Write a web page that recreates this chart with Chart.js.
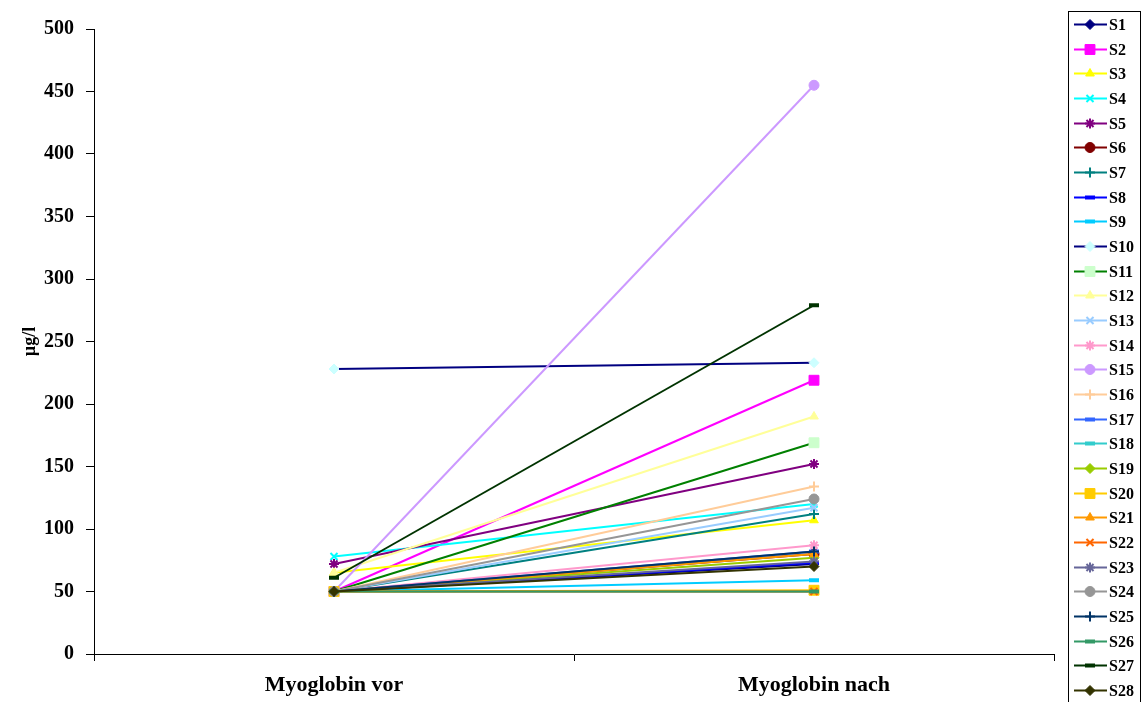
<!DOCTYPE html>
<html>
<head>
<meta charset="utf-8">
<script src="https://cdn.jsdelivr.net/npm/chart.js@4/dist/chart.umd.min.js"></script>
<style>
  html, body { margin: 0; padding: 0; background: #fff; }
  #wrap { width: 1142px; height: 702px; }
</style>
</head>
<body>
<div id="wrap"><canvas id="chart" width="1142" height="702"></canvas></div>
<script>
// Kategorien und Messwerte
const categories = ['Myoglobin vor', 'Myoglobin nach'];
const seriesNames = ['S1','S2','S3','S4','S5','S6','S7','S8','S9','S10','S11','S12','S13','S14',
                     'S15','S16','S17','S18','S19','S20','S21','S22','S23','S24','S25','S26','S27','S28'];
const vorValues  = [50, 50, 65, 78, 72, 50, 50, 50, 50, 228, 50, 65, 50, 50,
                    50, 50, 50, 50, 50, 50, 50, 50, 50, 50, 50, 50, 61, 50];
const nachValues = [72, 219, 107, 120, 152, 80, 112, 73, 59, 233, 169, 190, 117, 87,
                    455, 134, 82, 50, 77, 51, 80, 50, 74, 124, 82, 50, 279, 70];
const yTicks = [0, 50, 100, 150, 200, 250, 300, 350, 400, 450, 500];

// Stil je Serie (Excel-Palette)
const lineColors = ['#000080','#FF00FF','#FFFF00','#00FFFF','#800080','#800000','#008080','#0000FF',
                    '#00CCFF','#000080','#008000','#FFFF99','#99CCFF','#FF99CC','#CC99FF','#FFCC99',
                    '#3366FF','#33CCCC','#99CC00','#FFCC00','#FF9900','#FF6600','#666699','#969696',
                    '#003366','#339966','#003300','#333300'];
const markerColors = ['#000080','#FF00FF','#FFFF00','#00FFFF','#800080','#800000','#008080','#0000FF',
                      '#00CCFF','#CCFFFF','#CCFFCC','#FFFF99','#99CCFF','#FF99CC','#CC99FF','#FFCC99',
                      '#3366FF','#33CCCC','#99CC00','#FFCC00','#FF9900','#FF6600','#666699','#969696',
                      '#003366','#339966','#003300','#333300'];
const markerStyles = ['rectRot','rect','triangle','crossRot','star','circle','cross','line',
                      'line','rectRot','rect','triangle','crossRot','star','circle','cross',
                      'line','line','rectRot','rect','triangle','crossRot','star','circle',
                      'cross','line','line','rectRot'];

const FONT = '"Liberation Serif", "Times New Roman", serif';

function markerRadius(style) {
    if (style === 'rect') return 7;
    return 5;
}
function markerBorder(style) {
    if (style === 'line') return 4;
    if (style === 'cross' || style === 'crossRot' || style === 'star') return 2;
    return 1;
}

const datasets = seriesNames.map((name, i) => ({
    label: name,
    data: [vorValues[i], nachValues[i]],
    borderColor: lineColors[i],
    borderWidth: 2,
    pointStyle: markerStyles[i],
    pointRadius: markerRadius(markerStyles[i]),
    pointBackgroundColor: markerColors[i],
    pointBorderColor: markerColors[i],
    pointBorderWidth: markerBorder(markerStyles[i]),
    tension: 0,
    order: seriesNames.length - 1 - i   // spätere Serien oben, wie in Excel
}));

// eigene Legende rechts, Linie + Marker
const legendBox = {
    id: 'legendBox',
    afterDraw(chart) {
        const ctx = chart.ctx;
        ctx.save();
        ctx.strokeStyle = '#000';
        ctx.lineWidth = 1;
        ctx.strokeRect(1068.5, 11.5, 72, 700);
        chart.data.datasets.forEach((ds, i) => {
            const y = Math.round(24 + i * 24.67) + 0.5;
            ctx.strokeStyle = ds.borderColor;
            ctx.lineWidth = 2;
            ctx.beginPath();
            ctx.moveTo(1074, y);
            ctx.lineTo(1107, y);
            ctx.stroke();
            ctx.fillStyle = ds.pointBackgroundColor;
            ctx.strokeStyle = ds.pointBorderColor;
            ctx.lineWidth = ds.pointBorderWidth;
            Chart.helpers.drawPoint(ctx, {
                pointStyle: ds.pointStyle,
                radius: ds.pointRadius,
                rotation: 0,
                borderWidth: ds.pointBorderWidth
            }, 1090, y);
            ctx.fillStyle = '#000';
            ctx.font = 'bold 16px ' + FONT;
            ctx.textBaseline = 'middle';
            ctx.textAlign = 'left';
            ctx.fillText(ds.label, 1109, y + 1);
        });
        ctx.restore();
    }
};

new Chart(document.getElementById('chart').getContext('2d'), {
    type: 'line',
    data: { labels: categories, datasets: datasets },
    plugins: [legendBox],
    options: {
        responsive: false,
        animation: false,
        layout: { padding: { top: 29, right: 88, bottom: 0, left: 0 } },
        plugins: {
            legend: { display: false },
            tooltip: { enabled: false }
        },
        scales: {
            x: {
                type: 'category',
                offset: true,
                afterFit: s => { s.height = 48; },
                border: { color: '#000', width: 1 },
                grid: {
                    offset: true,
                    drawOnChartArea: false,
                    drawTicks: true,
                    tickLength: 7,
                    color: '#000'
                },
                ticks: {
                    color: '#000',
                    padding: 11,
                    font: { family: FONT, size: 22, weight: 'bold' }
                }
            },
            y: {
                min: 0,
                max: 500,
                afterFit: s => { s.width = 94; },
                afterBuildTicks: s => { s.ticks = yTicks.map(v => ({ value: v })); },
                border: { color: '#000', width: 1 },
                grid: {
                    drawOnChartArea: false,
                    drawTicks: true,
                    tickLength: 8,
                    color: '#000'
                },
                ticks: {
                    color: '#000',
                    padding: 12,
                    font: { family: FONT, size: 20, weight: 'bold' }
                },
                title: {
                    display: true,
                    text: 'µg/l',
                    color: '#000',
                    padding: { top: 20, bottom: 0 },
                    font: { family: FONT, size: 18, weight: 'bold' }
                }
            }
        }
    }
});
</script>
</body>
</html>
